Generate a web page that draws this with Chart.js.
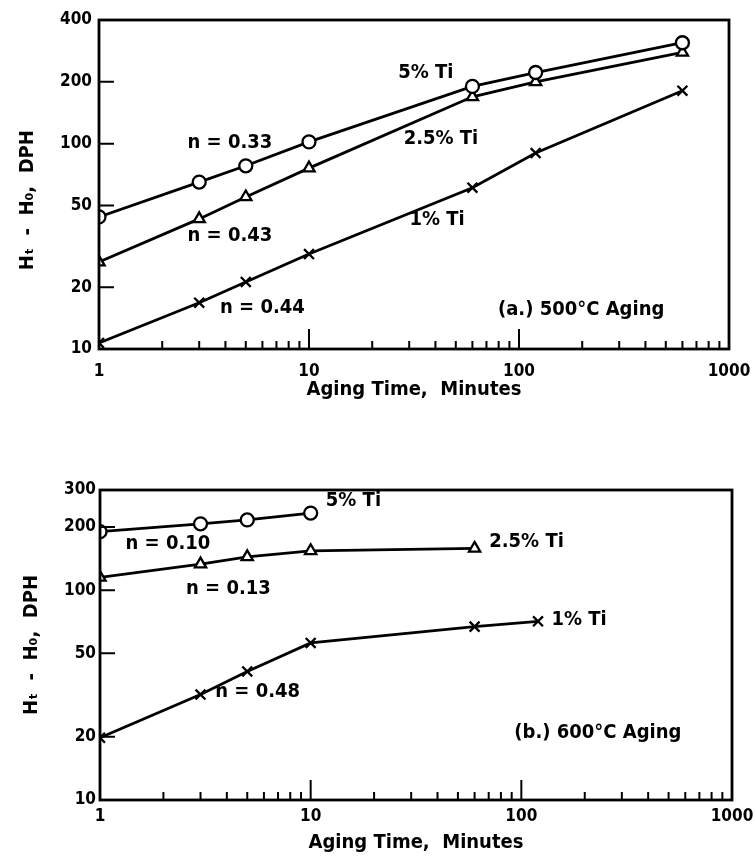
<!DOCTYPE html>
<html>
<head>
<meta charset="utf-8">
<script src="https://cdn.jsdelivr.net/npm/chart.js@4.4.1/dist/chart.umd.min.js"></script>
<style>
  html, body { margin: 0; padding: 0; background: #fff; }
  #wrap { position: relative; width: 755px; height: 859px; }
  canvas { position: absolute; left: 0; }
  #c1 { top: 0; }
  #c2 { top: 420px; }
</style>
</head>
<body>
<div id="wrap">
  <canvas id="c1" width="755" height="420"></canvas>
  <canvas id="c2" width="755" height="439"></canvas>
</div>
<script>
// ---------- data ----------
// (a.) 500°C aging
const timesA = [1, 3, 5, 10, 60, 120, 600];
const a5Ti   = [44, 65, 78, 102, 190, 222, 310];
const a25Ti  = [26.5, 43, 55, 76, 169, 200, 278];
const a1Ti   = [10.7, 16.8, 21.2, 29, 61, 90, 181];

// (b.) 600°C aging
const timesB5  = [1, 3, 5, 10];
const b5Ti     = [190, 207, 216, 233];
const timesB25 = [1, 3, 5, 10, 60];
const b25Ti    = [115, 133, 144, 154, 158];
const timesB1  = [1, 3, 5, 10, 60, 120];
const b1Ti     = [19.8, 31.8, 41, 56, 67, 71];

// tick labels
const xTickValues = [1, 10, 100, 1000];
const yTicksA = [10, 20, 50, 100, 200, 400];
const yTicksB = [10, 20, 50, 100, 200, 300];

// text labels (anchored in data coordinates)
const notesA = [
  { text: 'n = 0.33', x: 4.2, y: 101, align: 'center' },
  { text: 'n = 0.43', x: 4.2, y: 35.6, align: 'center' },
  { text: 'n = 0.44', x: 6.0, y: 15.8, align: 'center' },
  { text: '5% Ti', x: 36, y: 222, align: 'center' },
  { text: '2.5% Ti', x: 42.5, y: 105, align: 'center' },
  { text: '1% Ti', x: 40.7, y: 42.7, align: 'center' },
  { text: '(a.) 500°C Aging', x: 79.4, y: 15.5, align: 'left' }
];
const notesB = [
  { text: '5% Ti', x: 11.8, y: 267, align: 'left' },
  { text: 'n = 0.10', x: 2.1, y: 166, align: 'center' },
  { text: 'n = 0.13', x: 4.07, y: 101, align: 'center' },
  { text: 'n = 0.48', x: 5.6, y: 32.9, align: 'center' },
  { text: '2.5% Ti', x: 70.4, y: 170, align: 'left' },
  { text: '1% Ti', x: 139, y: 72.6, align: 'left' },
  { text: '(b.) 600°C Aging', x: 92.6, y: 20.9, align: 'left' }
];

const FONT = "'DejaVu Sans Condensed', 'DejaVu Sans', sans-serif";
const toXY = (xs, ys) => xs.map((x, i) => ({ x: x, y: ys[i] }));

function series(label, xs, ys, style) {
  return {
    label: label,
    data: toXY(xs, ys),
    borderColor: '#000',
    borderWidth: 2.8,
    pointStyle: style,
    pointRadius: style === 'crossRot' ? 7 : 6.5,
    pointBorderWidth: 2.3,
    pointBackgroundColor: '#fff',
    pointBorderColor: '#000',
    tension: 0,
    fill: false
  };
}

// frame + inward tick marks + text labels
const framePlugin = {
  id: 'frame',
  afterDatasetsDraw(chart, args, opts) {
    const ctx = chart.ctx;
    const a = chart.chartArea;
    const xs = chart.scales.x, ys = chart.scales.y;
    ctx.save();
    ctx.strokeStyle = '#000';
    ctx.lineWidth = 2.8;
    ctx.strokeRect(a.left, a.top, a.right - a.left, a.bottom - a.top);
    // x ticks (inward, major + minor)
    ctx.lineWidth = 2;
    ctx.beginPath();
    for (let d = 1; d < 1000; d *= 10) {
      for (let m = 1; m <= 10; m++) {
        const v = d * m;
        if (v <= 1 || v >= 1000) continue;
        const px = xs.getPixelForValue(v);
        const len = (m === 10) ? 20 : 8;
        ctx.moveTo(px, a.bottom);
        ctx.lineTo(px, a.bottom - len);
      }
    }
    // y major ticks (inward)
    ys.ticks.forEach(t => {
      const py = ys.getPixelForValue(t.value);
      if (py <= a.top + 1 || py >= a.bottom - 1) return;
      ctx.moveTo(a.left, py);
      ctx.lineTo(a.left + 15, py);
    });
    ctx.stroke();
    // text labels
    ctx.fillStyle = '#000';
    ctx.font = "bold 20px " + FONT;
    ctx.textBaseline = 'middle';
    (opts.notes || []).forEach(n => {
      ctx.textAlign = n.align;
      ctx.fillText(n.text, xs.getPixelForValue(n.x), ys.getPixelForValue(n.y));
    });
    ctx.restore();
  }
};

function makeChart(id, datasets, yMin, yMax, yTicks, notes, geo) {
  return new Chart(document.getElementById(id), {
    type: 'line',
    data: { datasets: datasets },
    plugins: [framePlugin],
    options: {
      responsive: false,
      animation: false,
      layout: { padding: { top: geo.padTop, right: geo.padRight, left: 0, bottom: 0 } },
      plugins: {
        legend: { display: false },
        tooltip: { enabled: false },
        frame: { notes: notes }
      },
      scales: {
        x: {
          type: 'logarithmic',
          min: 1, max: 1000,
          afterBuildTicks: s => { s.ticks = xTickValues.map(v => ({ value: v })); },
          afterFit: s => { s.height = geo.xHeight; s.paddingLeft = 0; s.paddingRight = 0; },
          grid: { display: false, drawTicks: false },
          border: { display: false },
          ticks: {
            autoSkip: false, maxRotation: 0, padding: geo.xTickPad,
            color: '#000',
            font: { family: FONT, size: 17, weight: 'bold' },
            callback: v => String(v)
          },
          title: {
            display: true, text: 'Aging Time,  Minutes', color: '#000',
            font: { family: FONT, size: 20, weight: 'bold' },
            padding: { top: 0, bottom: geo.xTitlePad }
          }
        },
        y: {
          type: 'logarithmic',
          min: yMin, max: yMax,
          afterBuildTicks: s => { s.ticks = yTicks.map(v => ({ value: v })); },
          afterFit: s => { s.width = geo.yWidth; s.paddingTop = 0; s.paddingBottom = 0; },
          grid: { display: false, drawTicks: false },
          border: { display: false },
          ticks: {
            autoSkip: false, padding: geo.yTickPad,
            color: '#000',
            font: { family: FONT, size: 17, weight: 'bold' },
            callback: v => String(v)
          },
          title: {
            display: true, text: geo.yTitle, color: '#000',
            font: { family: FONT, size: 20, weight: 'bold' },
            padding: { top: geo.yTitlePad, bottom: 0 }
          }
        }
      }
    }
  });
}

makeChart('c1', [
  series('5% Ti', timesA, a5Ti, 'circle'),
  series('2.5% Ti', timesA, a25Ti, 'triangle'),
  series('1% Ti', timesA, a1Ti, 'crossRot')
], 10, 400, yTicksA, notesA,
  { padTop: 20, padRight: 26, xHeight: 71, yWidth: 99, xTickPad: 12, xTitlePad: 18, yTickPad: 7, yTitlePad: 16,
    yTitle: 'Hₜ  -  H₀,  DPH     ' });

makeChart('c2', [
  series('5% Ti', timesB5, b5Ti, 'circle'),
  series('2.5% Ti', timesB25, b25Ti, 'triangle'),
  series('1% Ti', timesB1, b1Ti, 'crossRot')
], 10, 300, yTicksB, notesB,
  { padTop: 70, padRight: 23, xHeight: 59, yWidth: 100, xTickPad: 6, xTitlePad: 4, yTickPad: 4, yTitlePad: 20,
    yTitle: 'Hₜ  -  H₀,  DPH' });
</script>
</body>
</html>
